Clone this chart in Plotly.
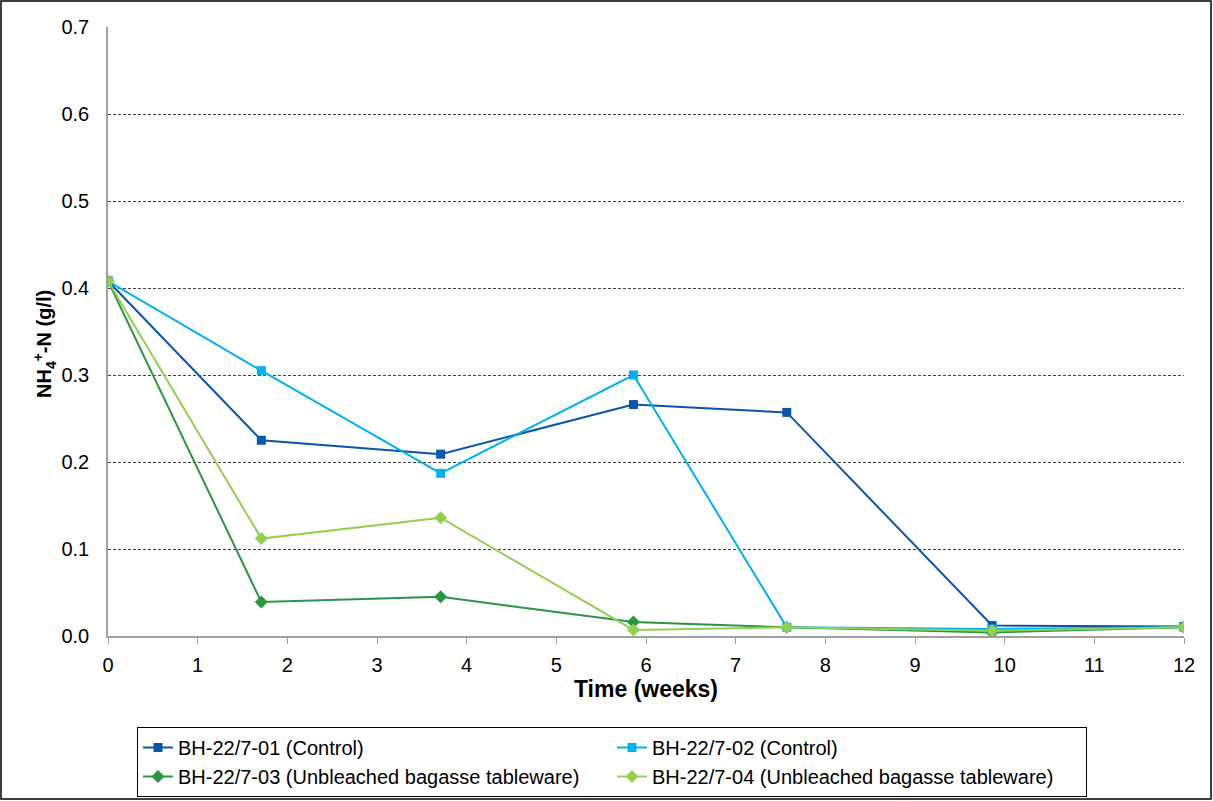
import plotly.graph_objects as go

weeks = [0, 1.71, 3.71, 5.86, 7.57, 9.86, 12]
s1 = [0.408, 0.225, 0.209, 0.266, 0.257, 0.012, 0.011]
s2 = [0.408, 0.305, 0.187, 0.300, 0.010, 0.008, 0.010]
s3 = [0.408, 0.039, 0.045, 0.016, 0.010, 0.004, 0.010]
s4 = [0.408, 0.112, 0.136, 0.007, 0.010, 0.006, 0.010]
names = ["BH-22/7-01 (Control)", "BH-22/7-02 (Control)",
         "BH-22/7-03 (Unbleached bagasse tableware)",
         "BH-22/7-04 (Unbleached bagasse tableware)"]
colors = ["#0A56A8", "#00B0F0", "#2A9640", "#92D050"]
symbols = ["square", "square", "diamond", "diamond"]

fig = go.Figure()
for ys, n, c, s in zip([s1, s2, s3, s4], names, colors, symbols):
    fig.add_trace(go.Scatter(x=weeks, y=ys, name=n, mode="lines+markers",
                             line=dict(color=c, width=2),
                             marker=dict(symbol=s, size=9 if s == "square" else 10, color=c)))

W, H = 1213, 801
L, R, T, B = 108, 29, 27, 165
pw, ph = W - L - R, H - T - B

def px(xp):
    return (xp - L) / pw

def py(yp):
    return (H - B - yp) / ph

fig.update_layout(
    width=W, height=H,
    margin=dict(l=L, r=R, t=T, b=B),
    paper_bgcolor="white", plot_bgcolor="white",
    font=dict(family="Liberation Sans, Arial", size=20, color="black"),
    xaxis=dict(range=[0, 12], dtick=1, tick0=0, showgrid=False, zeroline=False,
               showline=True, linecolor="#A0A0A0", linewidth=1.5,
               ticks="outside", ticklen=6, tickcolor="#A0A0A0",
               tickfont=dict(size=20), ticklabelstandoff=4, automargin=False,
               title=dict(text="<b>Time (weeks)</b>", font=dict(size=23), standoff=6)),
    yaxis=dict(range=[0, 0.7], dtick=0.1, tickformat=".1f", showgrid=True,
               gridcolor="#404040", griddash="3px,2px", gridwidth=1, zeroline=False,
               showline=True, linecolor="#A0A0A0", linewidth=1.5,
               ticks="", tickfont=dict(size=20), ticklabelstandoff=13, automargin=False),
    legend=dict(orientation="h", xref="container", yref="container",
                x=137 / W, y=1 - 727 / H, xanchor="left", yanchor="top",
                entrywidth=429, entrywidthmode="pixels",
                bordercolor="black", borderwidth=1, bgcolor="white",
                font=dict(size=20), itemwidth=30),
    annotations=[dict(text="<b>NH<sub>4</sub><sup>+</sup>-N (g/l)</b>", textangle=-90,
                      xref="paper", yref="paper", x=px(45), y=py(344),
                      xanchor="center", yanchor="middle", showarrow=False,
                      font=dict(size=20, color="black"))],
    shapes=[dict(type="rect", xref="paper", yref="paper",
                 x0=px(1), x1=px(1211), y0=py(799), y1=py(1),
                 line=dict(color="black", width=1.5), fillcolor="rgba(0,0,0,0)", layer="below")],
)

fig.write_html("out.html")
